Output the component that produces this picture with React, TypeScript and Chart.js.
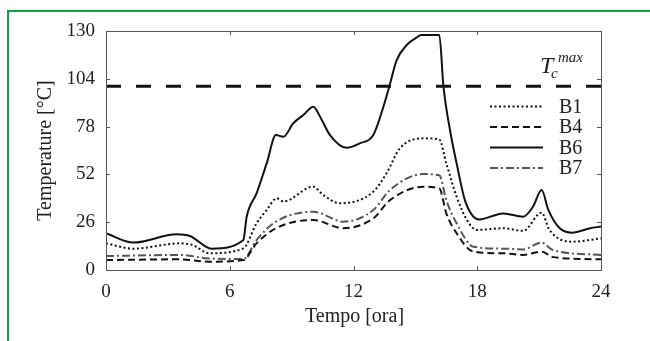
import React, { useEffect, useRef } from "react";
import { Chart, registerables } from "chart.js";

Chart.register(...registerables);

// ---- data ----
const xTicks = [0, 6, 12, 18, 24];
const yTicks = [0, 26, 52, 78, 104, 130];
const tcMax = 100;

const b6Hours = [0, 1.33, 3.43, 4.07, 5.12, 6.66, 6.82, 7.3, 7.79, 8.24, 8.6, 9.08, 9.57, 10.05, 10.38, 10.86, 11.67, 12.3, 12.96, 13.45, 13.74, 14.09, 14.58, 15.0, 15.3, 16.16, 16.36, 16.68, 17.0, 17.4, 17.81, 18.1, 19.26, 20.23, 20.7, 21.12, 21.45, 22.0, 22.6, 23.47, 24];
const b6Values = [20, 14.9, 19.4, 18.5, 11.6, 16.3, 29, 41.7, 58, 73.4, 72.5, 79.8, 84.3, 88.8, 83.4, 73.4, 66.5, 68.9, 73.4, 88.8, 100, 114, 122.4, 126, 127.8, 127.8, 100, 76, 58, 38, 29, 27.5, 30.8, 29, 34.4, 43.5, 32.6, 22.7, 20.3, 22.7, 23.6];

const b1Hours = [0, 1.33, 3.6, 4.2, 5.0, 6.66, 7.3, 7.79, 8.28, 8.6, 10.05, 10.53, 11.35, 12.96, 13.6, 14.25, 15.38, 16.16, 16.5, 17.0, 17.5, 17.97, 19.26, 20.23, 21.12, 21.5, 22.6, 24];
const b1Values = [14.5, 11.6, 14.5, 13.6, 9.1, 11.8, 25.4, 32.6, 39, 37.3, 45.3, 40.8, 36.3, 42.6, 52.6, 66.2, 71.6, 71, 58, 39.9, 27.2, 21.8, 22.7, 21.3, 31.2, 21.8, 15.4, 17.2];

const b7Hours = [0, 3.6, 5.0, 6.66, 7.3, 8.24, 10.05, 11.5, 12.96, 13.77, 15.38, 16.16, 16.5, 17.0, 17.81, 19.26, 20.23, 21.12, 21.67, 24];
const b7Values = [7.6, 8.2, 6.3, 6, 16.3, 26.3, 31.7, 26.3, 32.6, 43.5, 52.2, 51.5, 38, 25.4, 12.7, 11.6, 11.2, 14.9, 10.8, 8.2];

const b4Hours = [0, 3.6, 5.0, 6.66, 7.3, 8.24, 10.05, 11.5, 12.96, 13.77, 15.38, 16.16, 16.5, 17.0, 17.81, 19.26, 20.23, 21.12, 21.67, 24];
const b4Values = [5.4, 5.8, 4.5, 5.4, 14.5, 22.7, 27.2, 22.7, 28.1, 38, 45.3, 44.4, 30.8, 20, 10, 9.1, 8.2, 10, 7, 5.8];

const seriesNames = ["B1", "B4", "B6", "B7"];

const FONT = '"Liberation Serif", "DejaVu Serif", serif';

const toPts = (hs: number[], vs: number[]) => hs.map((h, i) => ({ x: h, y: vs[i] }));

const styles: Record<string, { dash: number[]; color: string; width: number }> = {
  B1: { dash: [2, 2.5], color: "#111", width: 2 },
  B4: { dash: [7, 4], color: "#111", width: 2 },
  B6: { dash: [], color: "#111", width: 2 },
  B7: { dash: [8, 3, 2, 3], color: "#555", width: 2 },
};

const decorPlugin = {
  id: "decor",
  beforeDraw(chart: any) {
    const ctx = chart.ctx;
    ctx.save();
    ctx.fillStyle = "#fff";
    ctx.fillRect(0, 0, chart.width, chart.height);
    ctx.strokeStyle = "#14a048";
    ctx.lineWidth = 2;
    ctx.beginPath();
    ctx.moveTo(8, 341);
    ctx.lineTo(8, 11);
    ctx.lineTo(650, 11);
    ctx.stroke();
    ctx.restore();
  },
  afterDraw(chart: any) {
    const ctx = chart.ctx;
    const { left, right, top, bottom } = chart.chartArea;
    const xs = chart.scales.x;
    const ys = chart.scales.y;
    ctx.save();
    // plot frame
    ctx.strokeStyle = "#555";
    ctx.lineWidth = 1;
    ctx.strokeRect(left + 0.5, top + 0.5, right - left, bottom - top);
    // inward ticks
    const tl = 4;
    ctx.beginPath();
    xTicks.forEach((t) => {
      const px = Math.round(xs.getPixelForValue(t)) + 0.5;
      ctx.moveTo(px, bottom);
      ctx.lineTo(px, bottom - tl);
      ctx.moveTo(px, top);
      ctx.lineTo(px, top + tl);
    });
    yTicks.forEach((t) => {
      const py = Math.round(ys.getPixelForValue(t)) + 0.5;
      ctx.moveTo(left, py);
      ctx.lineTo(left + tl, py);
      ctx.moveTo(right, py);
      ctx.lineTo(right - tl, py);
    });
    ctx.stroke();

    // axis titles
    ctx.fillStyle = "#222";
    ctx.font = `20px ${FONT}`;
    ctx.textAlign = "center";
    ctx.textBaseline = "middle";
    ctx.fillText("Tempo [ora]", (left + right) / 2 + 1, 317);
    ctx.save();
    ctx.translate(46, (top + bottom) / 2);
    ctx.rotate(-Math.PI / 2);
    ctx.fillText("Temperature [°C]", 0, 0);
    ctx.restore();

    // legend
    const rowY = [106.5, 127, 147.5, 168];
    seriesNames.forEach((name, i) => {
      const s = styles[name];
      ctx.strokeStyle = s.color;
      ctx.lineWidth = s.width;
      ctx.setLineDash(s.dash);
      ctx.beginPath();
      ctx.moveTo(490, rowY[i]);
      ctx.lineTo(543, rowY[i]);
      ctx.stroke();
      ctx.setLineDash([]);
      ctx.fillStyle = "#222";
      ctx.textAlign = "left";
      ctx.textBaseline = "middle";
      ctx.font = `20px ${FONT}`;
      ctx.fillText(name, 559, rowY[i] + 1);
    });

    // T_c^max label
    ctx.fillStyle = "#222";
    ctx.textAlign = "left";
    ctx.textBaseline = "alphabetic";
    ctx.font = `italic 24px ${FONT}`;
    ctx.fillText("T", 540, 73);
    ctx.font = `italic 15px ${FONT}`;
    ctx.fillText("c", 551, 78);
    ctx.fillText("max", 558, 62);
    ctx.restore();
  },
};

export default function App() {
  const ref = useRef<HTMLCanvasElement | null>(null);
  useEffect(() => {
    if (!ref.current) return;
    const mk = (name: string, hs: number[], vs: number[]) => ({
      label: name,
      data: toPts(hs, vs),
      borderColor: styles[name].color,
      borderWidth: styles[name].width,
      borderDash: styles[name].dash,
      pointRadius: 0,
      fill: false,
      cubicInterpolationMode: "monotone" as const,
    });
    const chart = new Chart(ref.current, {
      type: "line",
      data: {
        datasets: [
          {
            label: "Tc max",
            data: [
              { x: 0, y: tcMax },
              { x: 24, y: tcMax },
            ],
            borderColor: "#111",
            borderWidth: 3,
            borderDash: [15, 15],
            pointRadius: 0,
            fill: false,
          },
          mk("B1", b1Hours, b1Values),
          mk("B4", b4Hours, b4Values),
          mk("B6", b6Hours, b6Values),
          mk("B7", b7Hours, b7Values),
        ],
      },
      options: {
        animation: false,
        responsive: false,
        devicePixelRatio: 1,
        layout: { padding: { top: 31, right: 49, left: 0, bottom: 0 } },
        plugins: { legend: { display: false }, tooltip: { enabled: false } },
        scales: {
          x: {
            type: "linear",
            min: 0,
            max: 24,
            afterBuildTicks: (s: any) => {
              s.ticks = xTicks.map((v) => ({ value: v }));
            },
            afterFit: (s: any) => {
              s.height = 71;
            },
            grid: { display: false, drawTicks: false },
            border: { display: false },
            ticks: {
              padding: 11,
              color: "#222",
              font: { family: FONT, size: 19 },
              maxRotation: 0,
            },
          },
          y: {
            min: 0,
            max: 130,
            afterBuildTicks: (s: any) => {
              s.ticks = yTicks.map((v) => ({ value: v }));
            },
            afterFit: (s: any) => {
              s.width = 106;
            },
            grid: { display: false, drawTicks: false },
            border: { display: false },
            ticks: {
              padding: 11,
              color: "#222",
              font: { family: FONT, size: 19 },
            },
          },
        },
      },
      plugins: [decorPlugin],
    });
    return () => chart.destroy();
  }, []);
  return (
    <div style={{ position: "fixed", left: 0, top: 0, width: 650, height: 341, background: "#fff" }}>
      <canvas ref={ref} width={650} height={341} style={{ display: "block" }} />
    </div>
  );
}
